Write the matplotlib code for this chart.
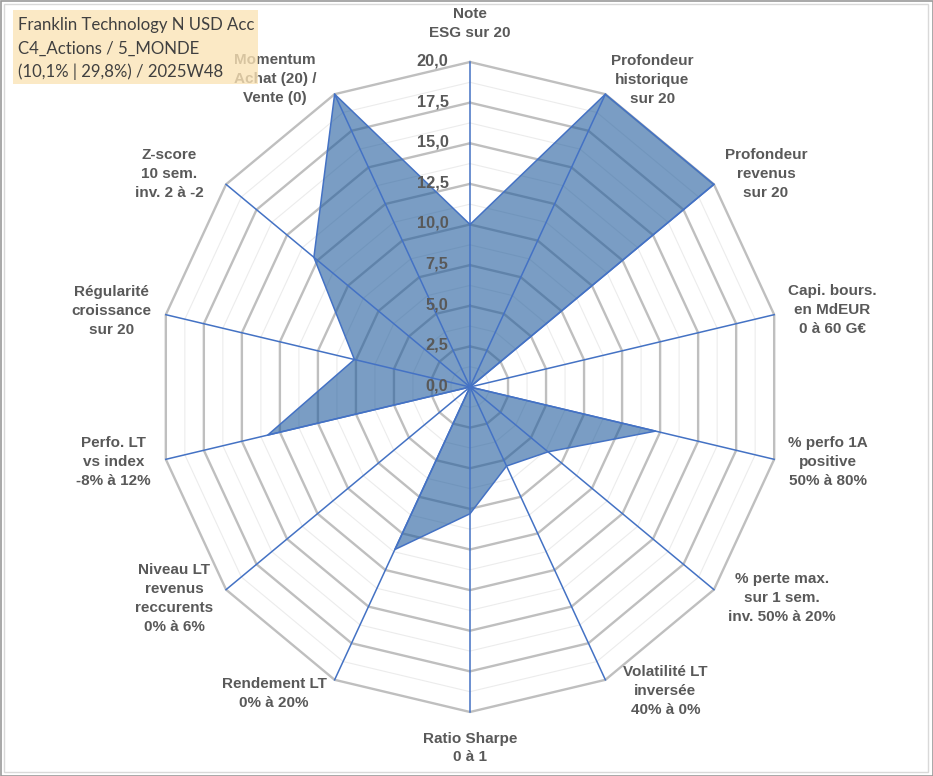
import numpy as np
import matplotlib
matplotlib.use("Agg")
import matplotlib.pyplot as plt
from matplotlib.patches import Rectangle

# Axis labels (clockwise from top)
categories = [
    "Note\nESG sur 20",
    "Profondeur\nhistorique\nsur 20",
    "Profondeur\nrevenus\nsur 20",
    "Capi. bours.\nen MdEUR\n0 à 60 G€",
    "% perfo 1A\npositive\n50% à 80%",
    "% perte max.\nsur 1 sem.\ninv. 50% à 20%",
    "Volatilité LT\ninversée\n40% à 0%",
    "Ratio Sharpe\n0 à 1",
    "Rendement LT\n0% à 20%",
    "Niveau LT\nrevenus\nreccurents\n0% à 6%",
    "Perfo. LT\nvs index\n-8% à 12%",
    "Régularité\ncroissance\nsur 20",
    "Z-score\n10 sem.\ninv. 2 à -2",
    "Momentum\nAchat (20) /\nVente (0)",
]

# Scores
scores = [10.0, 20.0, 20.0, 0.0, 12.2, 6.4, 5.4, 7.8, 11.1, 0.0, 13.3, 7.6, 12.8, 20.0]

ticks = [0, 2.5, 5, 7.5, 10, 12.5, 15, 17.5, 20]
minor_ticks = [1.25, 3.75, 6.25, 8.75, 11.25, 13.75, 16.25, 18.75]

title_lines = ["Franklin Technology N USD Acc",
               "C4_Actions / 5_MONDE",
               "(10,1% | 29,8%) / 2025W48"]

# label offsets from the outer vertex, in pixels (right, up)
label_offsets = [(0, 38.5), (47, 14.5), (52, 10.4), (58, 4.7), (54, -3), (68, -8.4),
                 (60, -11), (0, -36), (-60.6, -13.5), (-52, -9), (-52.5, -2.7),
                 (-54, 3.7), (-57, 10.4), (-59.6, 15)]

W, H = 933, 776
fig = plt.figure(figsize=(W / 100, H / 100), dpi=100)
fig.patch.set_facecolor("white")

# centre (470, 387) px from top-left, radius 312 px horizontally, 325 px vertically
cx, cy, rx, ry = 470, H - 387, 312, 325
ax = fig.add_axes([(cx - rx) / W, (cy - ry) / H, 2 * rx / W, 2 * ry / H], projection="polar")
ax.set_aspect("auto")
ax.set_theta_zero_location("N")
ax.set_theta_direction(-1)
ax.set_ylim(0, 20)
ax.grid(False)
ax.set_xticks([])
ax.set_yticks([])
ax.spines["polar"].set_visible(False)
ax.patch.set_visible(False)

n = len(categories)
theta = np.arange(n) * 2 * np.pi / n
theta_closed = np.append(theta, theta[0])

label_font = dict(family="Liberation Sans", weight="bold", size=11, color="#595959")

# polygon gridlines
for r in minor_ticks:
    ax.plot(theta_closed, [r] * (n + 1), color="#ECECEC", lw=0.8, zorder=1, clip_on=False)
for r in ticks[1:]:
    ax.plot(theta_closed, [r] * (n + 1), color="#BFBFBF", lw=1.7, zorder=2, clip_on=False,
            solid_joinstyle="miter")

# data polygon
vals = np.append(scores, scores[0])
ax.fill(theta_closed, vals, color="#215C9D", alpha=0.6, zorder=3, lw=0)
ax.plot(theta_closed, vals, color="#4472C4", lw=1.1, zorder=5, clip_on=False)

# spokes
for t in theta:
    ax.plot([t, t], [0, 20], color="#4472C4", lw=1.1, zorder=4, clip_on=False)

# radial tick labels
for r in ticks:
    ax.annotate(f"{r:.1f}".replace(".", ","), xy=(0, r), xytext=(-21.5, 1),
                textcoords="offset pixels", ha="right", va="center",
                annotation_clip=False, zorder=6,
                **{**label_font, "size": 11.8})

# category labels
for t, lab, (dx, dy) in zip(theta, categories, label_offsets):
    ax.annotate(lab, xy=(t, 20), xytext=(dx, dy), textcoords="offset pixels",
                ha="center", va="center", multialignment="center", linespacing=1.44,
                annotation_clip=False, zorder=6, **label_font)

# title box (semi transparent, on top)
fig.patches.append(Rectangle((13 / W, 1 - 84 / H), 245 / W, 74 / H, transform=fig.transFigure,
                             facecolor="#FBE3B5", edgecolor="none", alpha=0.78, zorder=10))
for i, line in enumerate(title_lines):
    fig.text(18 / W, 1 - (25 + 23.5 * i) / H, line, ha="left", va="center",
             family="Lato", size=12.1, color="#404040", zorder=11)

# chart frame
fig.patches.append(Rectangle((4 / W, 4 / H), (W - 9) / W, (H - 8) / H, transform=fig.transFigure,
                             facecolor="none", edgecolor="#D9D9D9", lw=1, zorder=0))
fig.patches.append(Rectangle((0.5 / W, 0.5 / H), (W - 1) / W, (H - 1) / H, transform=fig.transFigure,
                             facecolor="none", edgecolor="#9A9A9A", lw=1.2, zorder=0))

fig.savefig("out.png", dpi=100, facecolor="white")
